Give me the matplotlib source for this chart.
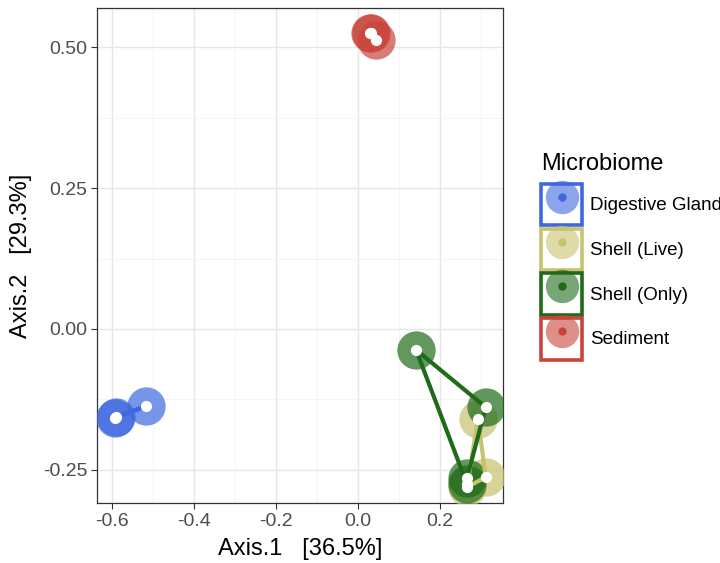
import numpy as np
import matplotlib
matplotlib.use('Agg')
import matplotlib.pyplot as plt
from matplotlib.patches import Rectangle
from matplotlib.lines import Line2D
from matplotlib.legend_handler import HandlerTuple

plt.rcParams['font.family'] = ['Liberation Sans', 'DejaVu Sans']

groups = ['Digestive Gland', 'Shell (Live)', 'Shell (Only)', 'Sediment']
colors = ['#3E68E0', '#C8C36E', '#1F6B1A', '#C9443A']

# sample coordinates
dg_x = [-0.592, -0.591, -0.518]
dg_y = [-0.158, -0.157, -0.137]
live_x = [0.292, 0.311, 0.265]
live_y = [-0.160, -0.263, -0.281]
only_x = [0.141, 0.311, 0.265, 0.265]
only_y = [-0.037, -0.139, -0.265, -0.275]
sed_x = [0.029, 0.030, 0.044]
sed_y = [0.526, 0.525, 0.513]

xs = [dg_x, live_x, only_x, sed_x]
ys = [dg_y, live_y, only_y, sed_y]


def ring(x, y):
  x = np.asarray(x)
  y = np.asarray(y)
  ang = np.arctan2(y - y.mean(), x - x.mean())
  order = np.argsort(ang)
  return np.append(x[order], x[order][0]), np.append(y[order], y[order][0])


fig = plt.figure(figsize=(7.2, 5.63), dpi=100)
ax = fig.add_axes([0.1347, 0.1066, 0.5639, 0.8792])

for x, y, c in zip(xs, ys, colors):
  ax.scatter(x, y, s=760, color=c, alpha=0.7, linewidths=0, zorder=3)
for x, y, c in zip(xs, ys, colors):
  hx, hy = ring(x, y)
  ax.plot(hx, hy, color=c, lw=3, zorder=4, solid_capstyle='round')
for x, y in zip(xs, ys):
  ax.scatter(x, y, s=65, color='white', linewidths=0, zorder=5)

ax.set_xlim(-0.637, 0.353)
ax.set_ylim(-0.309, 0.570)
ax.set_xticks([-0.6, -0.4, -0.2, 0.0, 0.2])
ax.set_xticklabels(['-0.6', '-0.4', '-0.2', '0.0', '0.2'])
ax.set_yticks([-0.25, 0.0, 0.25, 0.5])
ax.set_yticklabels(['-0.25', '0.00', '0.25', '0.50'])
ax.set_xticks(np.arange(-0.5, 0.35, 0.2), minor=True)
ax.set_yticks([-0.125, 0.125, 0.375], minor=True)
ax.grid(True, which='major', color='#E6E6E6', lw=1.0)
ax.grid(True, which='minor', color='#F2F2F2', lw=0.6)
ax.set_axisbelow(True)
ax.tick_params(which='major', direction='out', length=4, width=0.8, color='#333333',
               labelsize=14, labelcolor='#4D4D4D', pad=3)
ax.tick_params(which='minor', length=0)
for s in ax.spines.values():
  s.set_color('#333333')
  s.set_linewidth(0.9)

ax.set_xlabel('Axis.1   [36.5%]', fontsize=17, labelpad=6)
ax.set_ylabel('Axis.2   [29.3%]', fontsize=17, labelpad=8)

handles = []
for c in colors:
  box = Rectangle((0, 0), 1, 1, facecolor='white', edgecolor=c, lw=2.6)
  big = Line2D([], [], marker='o', ls='', ms=24, color=c, alpha=0.6, mew=0)
  dot = Line2D([], [], marker='o', ls='', ms=6, color=c, mew=0)
  handles.append((box, big, dot))

leg = fig.legend(handles, groups, handler_map={tuple: HandlerTuple(ndivide=1)},
                 loc='upper left', bbox_to_anchor=(0.741, 0.741), frameon=False,
                 fontsize=13.5, title='Microbiome', title_fontsize=17,
                 handlelength=2.2, handleheight=3.0, labelspacing=0.2,
                 handletextpad=0.4, borderaxespad=0, alignment='left')
leg._legend_box.sep = 6

fig.savefig('out.png', dpi=100)
